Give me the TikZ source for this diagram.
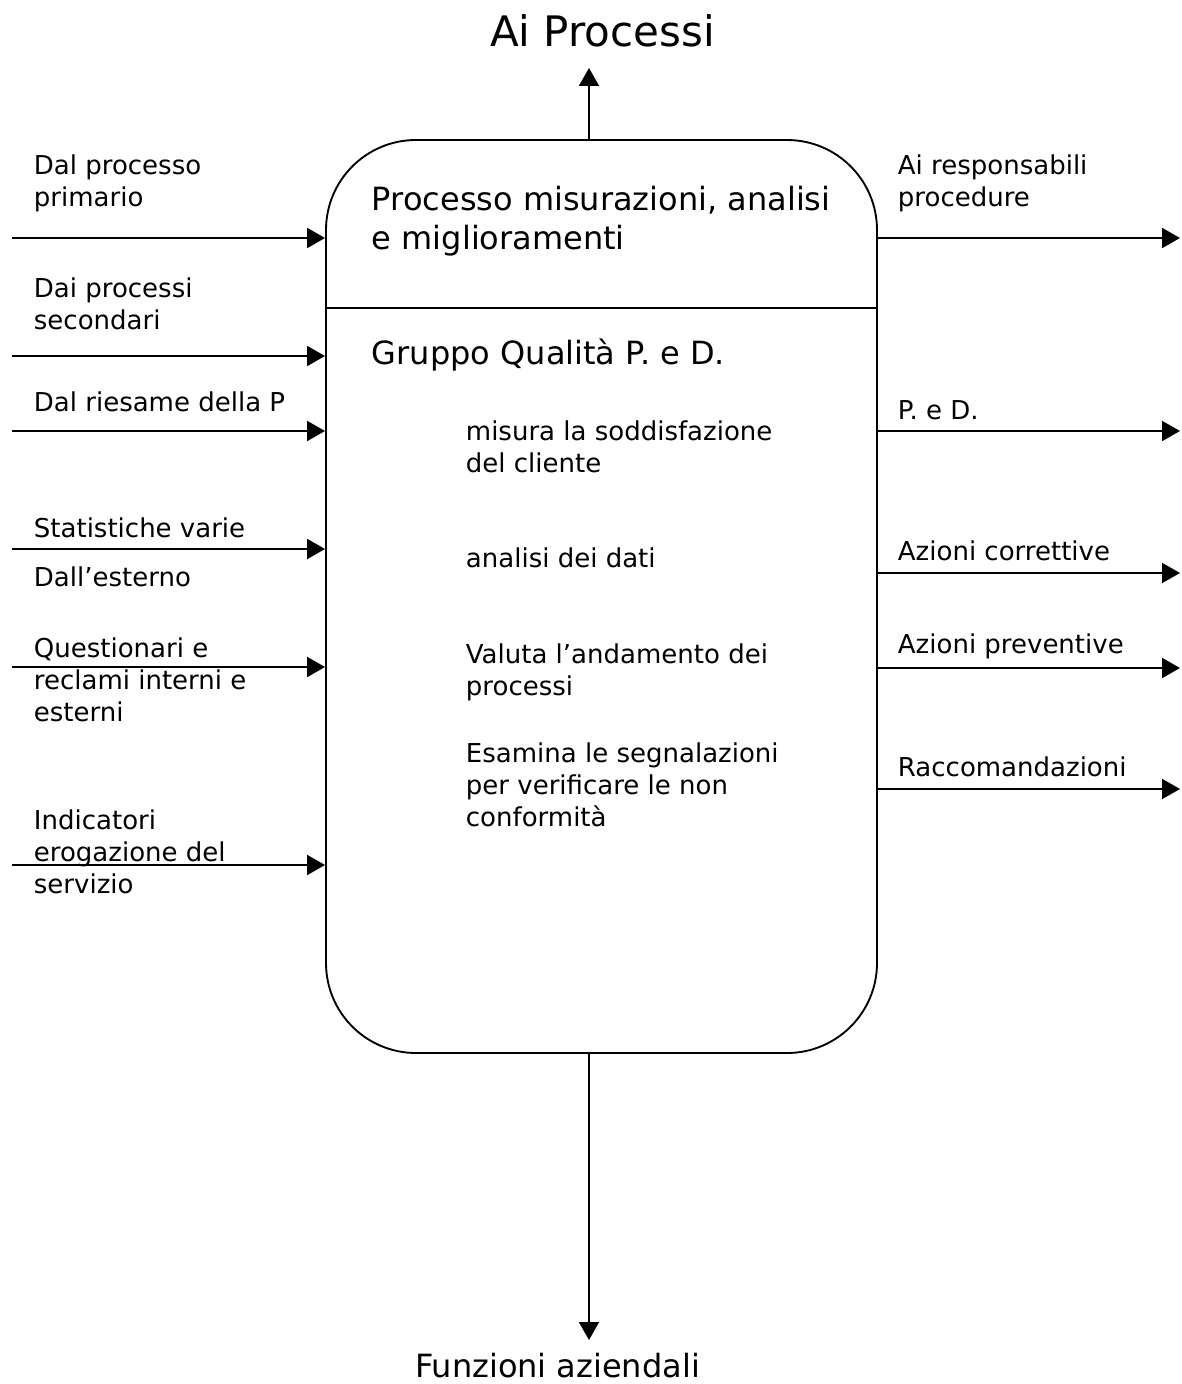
\documentclass[tikz,border=0pt]{standalone}
\usepackage{fontspec}
\setmainfont{DejaVu Sans}
\usetikzlibrary{arrows.meta}
\begin{document}
\begin{tikzpicture}[x=0.75pt,y=-0.75pt,
  line width=1.4pt,
  flow/.style={-{Triangle[length=13.5pt,width=15pt]}},
  lbl/.style={anchor=west,inner sep=0pt,align=left,font=\fontsize{19.5}{24}\selectfont},
  mid/.style={anchor=west,inner sep=0pt,align=left,font=\fontsize{24}{29.5}\selectfont},
  big/.style={anchor=base,inner sep=0pt,font=\fontsize{31.5}{38}\selectfont}]
\useasboundingbox (0,0) rectangle (1181,1384);

% central process block
\node[draw,rounded corners=67.5pt,minimum width=413.25pt,minimum height=684.75pt,inner sep=0pt]
  (box) at (601.5,596.5) {};
\coordinate (divL) at (326,308);
\draw (divL) -- (divL -| box.east);

\node[mid] (title) at (371,221) {Processo misurazioni, analisi\\e miglioramenti};
\node[mid] (group) at (371,355) {Gruppo Qualità P. e D.};
\node[lbl] (t1) at (465,447) {misura la soddisfazione\\del cliente};
\node[lbl] (t2) at (465,558) {analisi dei dati};
\node[lbl] (t3) at (465,672) {Valuta l’andamento dei\\processi};
\node[lbl] (t4) at (465,785) {Esamina le segnalazioni\\per verificare le non\\conformità};

% top and bottom flows
\coordinate (topS) at (589,140);
\coordinate (topE) at (589,68);
\draw[flow] (topS) -- (topE);
\node[big] (aiproc) at (602.5,47) {Ai Processi};
\coordinate (botS) at (589,1053);
\coordinate (botE) at (589,1340);
\draw[flow] (botS) -- (botE);
\node[anchor=base,inner sep=0pt,font=\fontsize{24}{29}\selectfont] (funz) at (557.5,1377) {Funzioni aziendali};

% inputs
\foreach \n/\y in {a/238,b/356,c/431,d/549,e/667,f/865}{
  \coordinate (in\n) at (12,\y);
  \draw[flow] (in\n) -- (in\n -| box.west);
}
\node[lbl] (l1) at (33,183) {Dal processo\\primario};
\node[lbl] (l2) at (33,304) {Dai processi\\secondari};
\node[lbl] (l3) at (33,402) {Dal riesame della P};
\node[lbl] (l4) at (33,528) {Statistiche varie};
\node[lbl] (l5) at (33,577) {Dall’esterno};
\node[lbl] (l6) at (33,680) {Questionari e\\reclami interni e\\esterni};
\node[lbl] (l7) at (33,852) {Indicatori\\erogazione del\\servizio};

% outputs
\foreach \n/\y in {a/238,b/431,c/573,d/668,e/789}{
  \coordinate (out\n) at (1180,\y);
  \draw[flow] (out\n -| box.east) -- (out\n);
}
\node[lbl] (r1) at (897,183) {Ai responsabili\\procedure};
\node[lbl] (r2) at (897,410) {P. e D.};
\node[lbl] (r3) at (897,551) {Azioni correttive};
\node[lbl] (r4) at (897,646) {Azioni preventive};
\node[lbl] (r5) at (897,767) {Raccomandazioni};
\end{tikzpicture}
\end{document}
